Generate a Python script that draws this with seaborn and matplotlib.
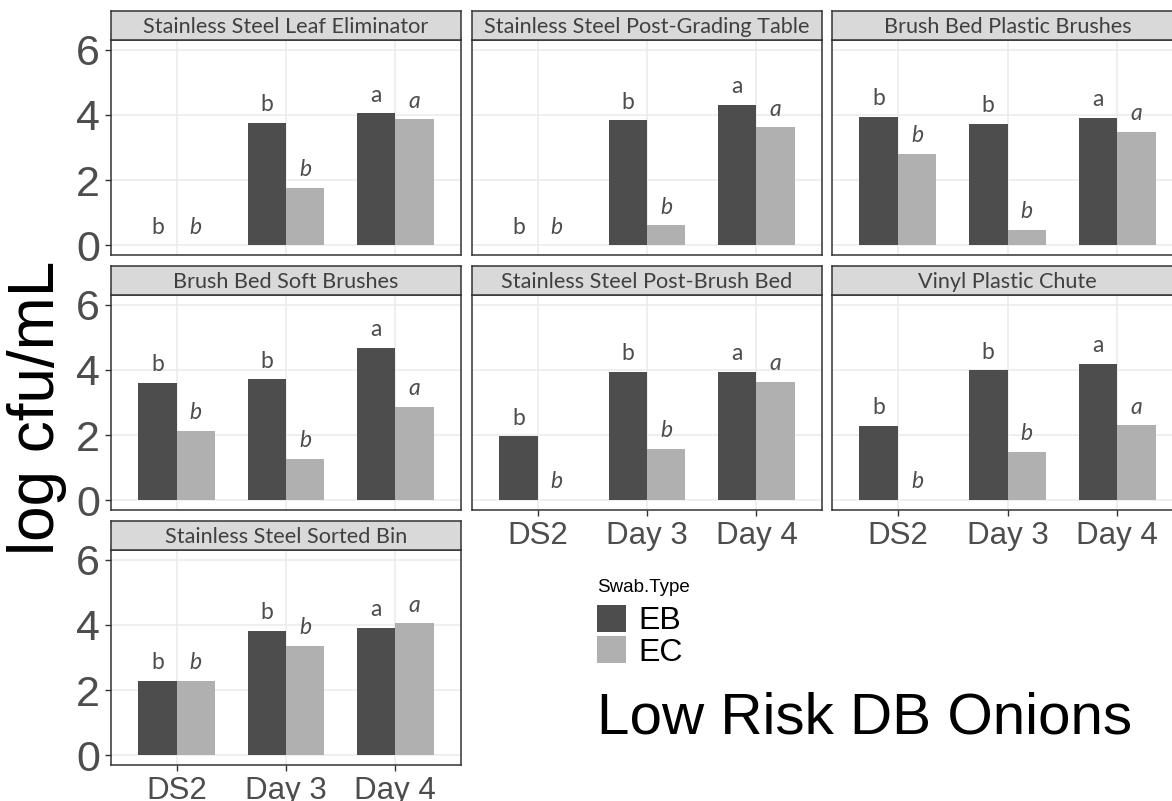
import matplotlib
matplotlib.use("Agg")
import matplotlib.pyplot as plt
import seaborn as sns
import pandas as pd

# ---------------- data ----------------
days = ["DS2", "Day 3", "Day 4"]
swab_types = ["EB", "EC"]
surfaces = [
    "Stainless Steel Leaf Eliminator",
    "Stainless Steel Post-Grading Table",
    "Brush Bed Plastic Brushes",
    "Brush Bed Soft Brushes",
    "Stainless Steel Post-Brush Bed",
    "Vinyl Plastic Chute",
    "Stainless Steel Sorted Bin",
]
eb_values = [
    [0.00, 3.76, 4.05],
    [0.00, 3.83, 4.32],
    [3.94, 3.72, 3.90],
    [3.60, 3.71, 4.67],
    [1.96, 3.95, 3.95],
    [2.29, 3.99, 4.18],
    [2.28, 3.81, 3.90],
]
ec_values = [
    [0.00, 1.77, 3.86],
    [0.00, 0.61, 3.62],
    [2.81, 0.48, 3.47],
    [2.13, 1.27, 2.87],
    [0.00, 1.58, 3.63],
    [0.00, 1.48, 2.30],
    [2.28, 3.35, 4.05],
]
eb_letters = ["b", "b", "a"]
ec_letters = ["b", "b", "a"]
y_ticks = [0, 2, 4, 6]
y_label = "log cfu/mL"
legend_title = "Swab.Type"
chart_title = "Low Risk DB Onions"

rows = []
for s, ebv, ecv in zip(surfaces, eb_values, ec_values):
    for d, v in zip(days, ebv):
        rows.append({"Surface": s, "Day": d, "Swab": "EB", "value": v})
    for d, v in zip(days, ecv):
        rows.append({"Surface": s, "Day": d, "Swab": "EC", "value": v})
df = pd.DataFrame(rows)

palette = {"EB": "#4d4d4d", "EC": "#b0b0b0"}
letters = {"EB": eb_letters, "EC": ec_letters}

# ---------------- layout ----------------
W, H = 1172, 801
fig = plt.figure(figsize=(W / 100, H / 100), dpi=100)
fig.patch.set_facecolor("white")

col_left = [111, 472, 832]
col_w = [350, 350, 351]
row_top = [40, 295, 550]
panel_h = 215
strip_h = 29
positions = [(0, 0), (0, 1), (0, 2), (1, 0), (1, 1), (1, 2), (2, 0)]
bottom_panels = {4, 5, 6}

SANS = ["Liberation Sans", "DejaVu Sans"]
STRIP_FONT = ["Lato", "DejaVu Sans"]

legend_handles = None
for i, (surf, (r, c)) in enumerate(zip(surfaces, positions)):
    left, top, w = col_left[c], row_top[r], col_w[c]
    ax = fig.add_axes([left / W, 1 - (top + panel_h) / H, w / W, panel_h / H])
    sub = df[df["Surface"] == surf]
    sns.barplot(data=sub, x="Day", y="value", hue="Swab", order=days,
                hue_order=swab_types, palette=palette, width=0.7,
                errorbar=None, saturation=1, linewidth=0, ax=ax,
                legend=(i == 0))
    if i == 0:
        legend_handles = ax.get_legend_handles_labels()
        ax.get_legend().remove()

    # significance letters
    for sw, cont in zip(swab_types, ax.containers):
        for j, bar in enumerate(cont):
            x = bar.get_x() + bar.get_width() / 2
            h = bar.get_height()
            ax.text(x, h + 0.36, letters[sw][j], ha="center", va="baseline",
                    fontsize=16.5, color="#4d4d4d", family=STRIP_FONT,
                    style="italic" if sw == "EC" else "normal")

    ax.set_xlim(-0.6, 2.6)
    ax.set_ylim(-0.3, 6.3)
    ax.set_yticks(y_ticks)
    ax.set_xlabel("")
    ax.set_ylabel("")
    ax.set_facecolor("white")
    ax.grid(True, color="#ebebeb", linewidth=1.1)
    ax.set_axisbelow(True)
    for sp in ax.spines.values():
        sp.set_color("#333333")
        sp.set_linewidth(1.1)

    if c == 0:
        ax.tick_params(axis="y", length=4, width=1, color="#333333",
                       labelsize=31, labelcolor="#4d4d4d", pad=4)
        for t in ax.get_yticklabels():
            t.set_family(SANS)
    else:
        ax.tick_params(axis="y", length=0, labelleft=False)

    if i in bottom_panels:
        ax.tick_params(axis="x", length=4, width=1, color="#333333",
                       labelsize=22.5, labelcolor="#4d4d4d", pad=4)
        for t in ax.get_xticklabels():
            t.set_family(SANS)
    else:
        ax.tick_params(axis="x", length=0, labelbottom=False)

    # facet strip
    sax = fig.add_axes([left / W, 1 - top / H, w / W, strip_h / H])
    sax.set_facecolor("#d9d9d9")
    sax.set_xticks([])
    sax.set_yticks([])
    for sp in sax.spines.values():
        sp.set_color("#333333")
        sp.set_linewidth(1.1)
    sax.text(0.5, 0.46, surf, ha="center", va="center", fontsize=15.6,
             color="#404040", family=STRIP_FONT, transform=sax.transAxes)

# y axis label
fig.text(37 / W, 1 - 408 / H, y_label, rotation=90, ha="center", va="center",
         fontsize=46, color="black", family=SANS)

# legend (title drawn separately to get the gap of the reference)
fig.text(597 / W, 1 - 588 / H, legend_title, ha="left", va="center",
         fontsize=13.5, color="black", family=SANS)
handles, labels = legend_handles
leg = fig.legend(handles, labels, loc="upper left",
                 bbox_to_anchor=(597 / W, 1 - 605 / H), frameon=False,
                 handlelength=0.92, handleheight=0.9, labelspacing=0.0,
                 handletextpad=0.38, borderpad=0, borderaxespad=0,
                 prop={"family": SANS, "size": 23})

# chart title
fig.text(597 / W, 1 - 718 / H, chart_title, ha="left", va="center",
         fontsize=42, color="black", family=SANS)

fig.savefig("out.png", dpi=100, facecolor="white")
